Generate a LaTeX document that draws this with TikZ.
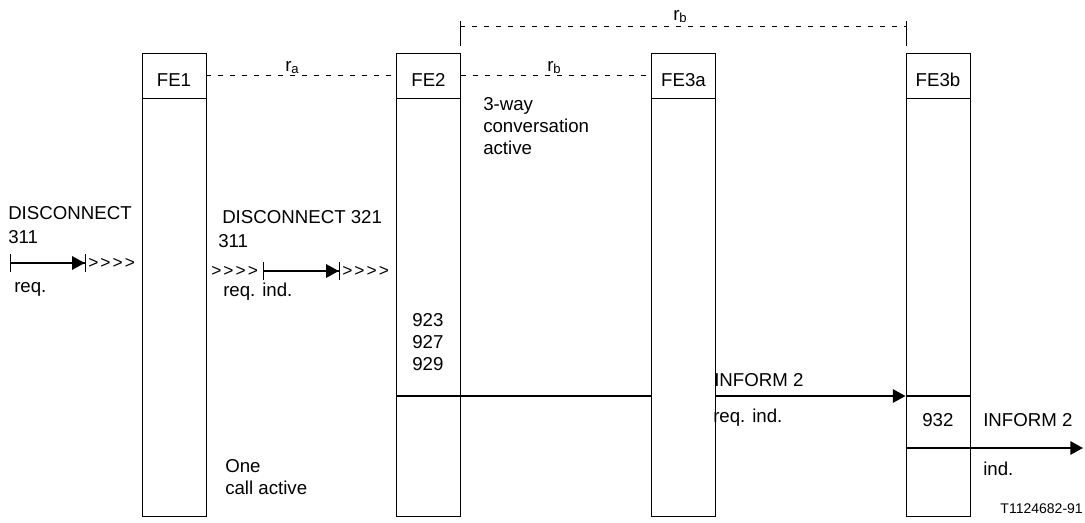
\documentclass[tikz,border=0pt]{standalone}
\usepackage{fontspec}
\setmainfont{Liberation Sans}
\newfontfamily\chevfont[LetterSpace=12,Ligatures=NoCommon]{Liberation Sans}
\usetikzlibrary{arrows.meta}

\begin{document}
\begin{tikzpicture}[x=0.75pt,y=0.75pt,yscale=-1,xscale=1,
  every node/.style={font=\fontsize{14}{16.2}\selectfont},
  fehead/.style={draw,line width=0.7pt,minimum width=48pt,minimum height=33.75pt,inner sep=0pt,text height=16pt,text depth=0pt},
  febody/.style={draw,line width=0.7pt,minimum width=48pt,minimum height=313.5pt,inner sep=0pt},
  hline/.style={line width=1.3pt},
  dashline/.style={line width=0.6pt,dash pattern=on 3.75pt off 5.25pt},
  msg/.style={line width=1.3pt,-{Triangle[length=9.5pt,width=10pt]}},
  prim/.style={line width=1.3pt,{Bar[width=13.5pt,line width=0.9pt]}-{Triangle[length=9.5pt,width=10pt]Bar[width=13.5pt,line width=0.9pt]}},
  chev/.style={anchor=west,inner sep=0pt,font=\chevfont\fontsize{13}{16}\selectfont},
  txt/.style={anchor=base west,inner sep=0pt,align=left}]
\path (0,0) rectangle (1085,522);

%Shape: FE boxes
\node[fehead] (fe1) at (174,75.5) {FE1};
\node[febody] (fe1b) at (174,307) {};
\node[fehead] (fe2) at (428.5,75.5) {FE2};
\node[febody] (fe2b) at (428.5,307) {};
\node[fehead] (fe3a) at (683.5,75.5) {FE3a};
\node[febody] (fe3ab) at (683.5,307) {};
\node[fehead] (fe3b) at (938,75.5) {FE3b};
\node[febody] (fe3bb) at (938,307) {};
\foreach \n in {fe1,fe2,fe3a,fe3b}
  \draw[hline] (\n.south west) -- (\n.south east);

%Dashed Lines: relationships
\draw[dashline] (fe1.east) -- (fe2.west);
\draw[dashline] (fe2.east) -- (fe3a.west);
\coordinate (rbl) at (460,26);
\coordinate (rbr) at (906,26);
\draw[dashline] (rbl) -- (rbr);
\draw[line width=0.7pt] (460,21) -- (460,46);
\draw[line width=0.7pt] (906,21) -- (906,46);

% Text Node
\node[txt] (ra) at (285,71) {r\textsubscript{a}};
% Text Node
\node[txt] (rb1) at (547,71) {r\textsubscript{b}};
% Text Node
\node[txt] (rb2) at (673,20) {r\textsubscript{b}};

%Straight Lines: DISCONNECT
\coordinate (d1s) at (10,263);
\coordinate (d1e) at (86,263);
\draw[prim] (d1s) -- (d1e);
\node[chev] (chv1) at (88,263) {{>}{>}{>}{>}};
\node[chev] (chv2) at (211,271) {{>}{>}{>}{>}};
\coordinate (d2s) at (263,271);
\coordinate (d2e) at (340,271);
\draw[prim] (d2s) -- (d2e);
\node[chev] (chv3) at (342,271) {{>}{>}{>}{>}};

%Straight Lines: INFORM
\coordinate (lv) at (0,396);
\coordinate (lw) at (0,448);
\coordinate (i2e) at (1083,448);
\draw[hline] (fe2b.west |- lv) -- (fe3ab.west |- lv);
\draw[msg] (fe3ab.east |- lv) -- (fe3bb.west |- lv);
\draw[hline] (fe3bb.west |- lv) -- (fe3bb.east |- lv);
\draw[msg] (fe3bb.west |- lw) -- (i2e);

% Text Node
\node[txt] (dis1) at (8,219) {DISCONNECT};
\node[txt] (n311a) at (8,243) {311};
\node[txt] (req1) at (14,292) {req.};
% Text Node
\node[txt] (dis2) at (222,223) {DISCONNECT 321};
\node[txt] (n311b) at (218,247) {311};
\node[txt] (req2) at (223,296) {req. ind.};
% Text Node
\node[txt] (conv) at (483,154) {3-way\\conversation\\active};
% Text Node
\node[txt] (sib) at (412,370) {923\\927\\929};
% Text Node
\node[txt] (inf1) at (714,386) {INFORM 2};
\node[txt] (req3) at (713,422) {req. ind.};
% Text Node
\node[txt] (n932) at (922,426) {932};
\node[txt] (inf2) at (983,426) {INFORM 2};
\node[txt] (ind) at (983,475) {ind.};
% Text Node
\node[txt] (one) at (225,494) {One\\call active};
% Text Node
\node[anchor=base east,inner sep=0pt,font=\fontsize{10.5}{12}\selectfont] (fig) at (1083,513) {T1124682-91};
\end{tikzpicture}
\end{document}
